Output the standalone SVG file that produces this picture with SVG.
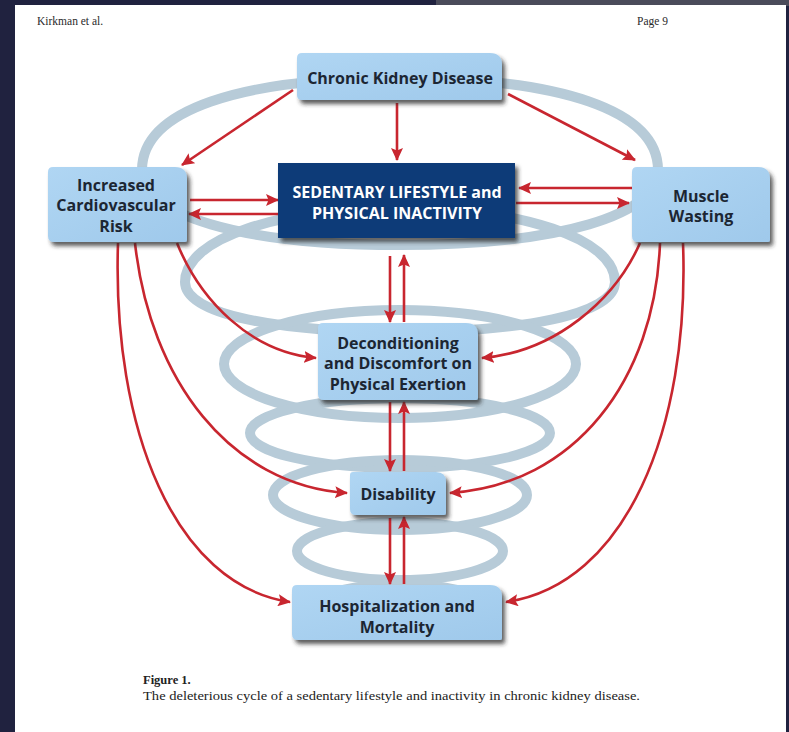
<svg xmlns="http://www.w3.org/2000/svg" width="789" height="732" viewBox="0 0 789 732">
  <defs>
    <style>
      .hdr { font-family: "Liberation Serif", "Times New Roman", serif; font-size: 11.5px; fill: #2a2a2a; }
      .cap { font-family: "Liberation Serif", "Times New Roman", serif; font-size: 12.5px; fill: #222; }
      .lbl { font-family: "Open Sans", "Noto Sans", sans-serif; font-weight: 700; font-size: 16px; fill: #1c2633; text-anchor: middle; }
      .lbl-w { font-family: "Open Sans", "Noto Sans", sans-serif; font-weight: 700; font-size: 16px; fill: #ffffff; text-anchor: middle; }
      .box { fill: url(#boxFill); filter: url(#shadow); }
      .dark { fill: #0b3a78; filter: url(#shadow); }
      .ring { fill: none; stroke: #b7cbd8; stroke-width: 10; }
      .link { fill: none; stroke: #c8262f; stroke-width: 2.6; marker-end: url(#head); }
    </style>
    <linearGradient id="boxFill" x1="0" y1="0" x2="1" y2="1">
      <stop offset="0" stop-color="#b0d6f3"/>
      <stop offset="1" stop-color="#9fc9eb"/>
    </linearGradient>
    <filter id="shadow" x="-10%" y="-10%" width="130%" height="140%">
      <feDropShadow dx="3" dy="4" stdDeviation="2" flood-color="#2a2a2a" flood-opacity="0.75"/>
    </filter>
    <marker id="head" markerUnits="userSpaceOnUse" markerWidth="13" markerHeight="12" refX="12" refY="6" orient="auto">
      <path d="M0,0 L13,6 L0,12 L2.5,6 Z" fill="#c8262f"/>
    </marker>
  </defs>

  <!-- page frame -->
  <rect x="0" y="0" width="789" height="732" fill="#20223f"/>
  <rect x="436" y="0" width="353" height="6" fill="#4a4b5a"/>
  <rect x="15" y="5" width="771" height="727" fill="#ffffff"/>

  <text class="hdr" x="37" y="25">Kirkman et al.</text>
  <text class="hdr" x="637" y="25">Page 9</text>

  <!-- spiral rings -->
  <g id="rings">
    <path class="ring" d="M400,78 C560,78 658,110 658,170 C658,215 560,245 400,245 C240,245 142,215 142,170 C142,110 240,78 400,78 Z"/>
    <path class="ring" d="M400,208 C520,208 615,238 615,282 C615,315 520,332 400,332 C280,332 185,315 185,282 C185,238 280,208 400,208 Z"/>
    <ellipse class="ring" cx="400" cy="364" rx="176" ry="54"/>
    <ellipse class="ring" cx="400" cy="433" rx="150" ry="35"/>
    <ellipse class="ring" cx="400" cy="495" rx="127" ry="35"/>
    <ellipse class="ring" cx="400" cy="551" rx="103" ry="29"/>
    <ellipse class="ring" cx="400" cy="604" rx="80" ry="20"/>
  </g>

  <!-- connectors -->
  <g id="connectors">
    <line class="link" x1="293" y1="90" x2="182" y2="165"/>
    <line class="link" x1="397" y1="103" x2="397" y2="160"/>
    <line class="link" x1="508" y1="94" x2="635" y2="160"/>

    <line class="link" x1="190" y1="200" x2="278" y2="200"/>
    <line class="link" x1="278" y1="214" x2="189" y2="214"/>
    <line class="link" x1="632" y1="188" x2="519" y2="188"/>
    <line class="link" x1="516" y1="203" x2="629" y2="203"/>

    <line class="link" x1="390" y1="256" x2="390" y2="322"/>
    <line class="link" x1="404" y1="322" x2="404" y2="255"/>
    <line class="link" x1="390" y1="402" x2="390" y2="471"/>
    <line class="link" x1="404" y1="471" x2="404" y2="402"/>
    <line class="link" x1="390" y1="518" x2="390" y2="584"/>
    <line class="link" x1="404" y1="584" x2="404" y2="517"/>

    <path class="link" d="M177,243 C200,300 250,352 316,358"/>
    <path class="link" d="M135,243 C150,380 230,485 347,493"/>
    <path class="link" d="M118,243 C112,430 175,585 290,602"/>
    <path class="link" d="M640,243 C615,300 555,352 482,358"/>
    <path class="link" d="M660,243 C655,380 575,485 450,493"/>
    <path class="link" d="M683,243 C690,430 625,585 506,602"/>
  </g>

  <!-- nodes -->
  <g id="ckd">
    <path class="box" d="M302,53 H490 Q502,53 502,65 V98 Q502,100 500,100 H302 Q297,100 297,95 V58 Q297,53 302,53 Z"/>
    <text class="lbl" x="400" y="84">Chronic Kidney Disease</text>
  </g>
  <g id="cv-risk">
    <path class="box" d="M53,167 H175 Q187,167 187,179 V240 Q187,242 185,242 H54 Q48,242 48,236 V172 Q48,167 53,167 Z"/>
    <text class="lbl" x="116" y="191">Increased</text>
    <text class="lbl" x="116" y="211">Cardiovascular</text>
    <text class="lbl" x="116" y="232">Risk</text>
  </g>
  <g id="sedentary">
    <rect class="dark" x="278" y="163" width="237" height="75"/>
    <text class="lbl-w" x="397" y="198">SEDENTARY LIFESTYLE and</text>
    <text class="lbl-w" x="397" y="219">PHYSICAL INACTIVITY</text>
  </g>
  <g id="muscle">
    <path class="box" d="M637,167 H758 Q770,167 770,179 V240 Q770,242 768,242 H638 Q632,242 632,236 V172 Q632,167 637,167 Z"/>
    <text class="lbl" x="701" y="202">Muscle</text>
    <text class="lbl" x="701" y="222">Wasting</text>
  </g>
  <g id="deconditioning">
    <path class="box" d="M323,323 H466 Q478,323 478,335 V398 Q478,400 476,400 H324 Q318,400 318,394 V328 Q318,323 323,323 Z"/>
    <text class="lbl" x="398" y="349">Deconditioning</text>
    <text class="lbl" x="398" y="369">and Discomfort on</text>
    <text class="lbl" x="398" y="390">Physical Exertion</text>
  </g>
  <g id="disability">
    <path class="box" d="M353,472 H436 Q446,472 446,482 V513 Q446,515 444,515 H356 Q350,515 350,509 V475 Q350,472 353,472 Z"/>
    <text class="lbl" x="398" y="500">Disability</text>
  </g>
  <g id="hospitalization">
    <path class="box" d="M297,585 H490 Q502,585 502,597 V638 Q502,640 500,640 H298 Q292,640 292,634 V590 Q292,585 297,585 Z"/>
    <text class="lbl" x="397" y="612">Hospitalization and</text>
    <text class="lbl" x="397" y="633">Mortality</text>
  </g>

  <text class="cap" x="143" y="684" font-weight="bold">Figure 1.</text>
  <text class="cap" x="143" y="700" textLength="497" lengthAdjust="spacingAndGlyphs">The deleterious cycle of a sedentary lifestyle and inactivity in chronic kidney disease.</text>
</svg>
